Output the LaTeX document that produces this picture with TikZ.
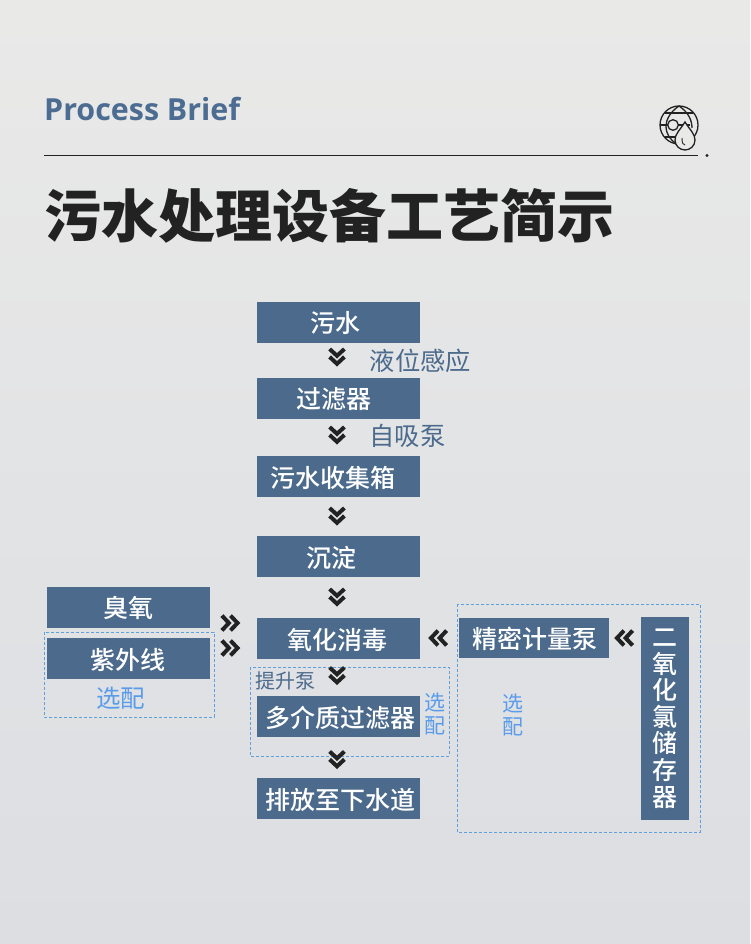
\documentclass[tikz,border=0pt]{standalone}
\usepackage{fontspec}
\setmainfont{Noto Sans CJK SC}
\newfontfamily\boxf{Noto Sans CJK SC Medium}
\newfontfamily\latinf{Open Sans}
\usetikzlibrary{calc}
\definecolor{boxblue}{HTML}{4B6A8C}
\definecolor{headblue}{HTML}{4C6C92}
\definecolor{optblue}{HTML}{5A9CEA}
\definecolor{dashblue}{HTML}{5F9FE0}
\definecolor{inkdark}{HTML}{222222}
\definecolor{bgtop}{HTML}{E9E9E8}
\definecolor{bgbot}{HTML}{DCDEE2}
\tikzset{
 x=1pt,y=-1pt,
 flowbox/.style={fill=boxblue,inner sep=0pt,anchor=center,minimum height=41pt,minimum width=163pt},
 boxtext/.style={text=white,font=\boxf\fontsize{25}{27}\selectfont,inner sep=0pt,anchor=center},
 sidelabel/.style={text=boxblue,font=\fontsize{25.3}{27}\selectfont,inner sep=0pt,anchor=center},
 optlabel/.style={text=optblue,font=\fontsize{21}{24}\selectfont,inner sep=0pt,anchor=center},
 optbox/.style={draw=dashblue,dash pattern=on 3pt off 2pt,line width=0.7pt},
 chevstroke/.style={draw=inkdark,line width=4pt,miter limit=10},
 chevdown/.pic={\draw[chevstroke] (-7.4,-8)--(0,-1.2)--(7.4,-8);\draw[chevstroke] (-7.4,-0.1)--(0,6.8)--(7.4,-0.1);},
 chevright/.pic={\draw[chevstroke] (-8.6,-7.4)--(-1.6,0)--(-8.6,7.4);\draw[chevstroke] (0,-7.4)--(7,0)--(0,7.4);},
 chevleft/.pic={\draw[chevstroke] (8.6,-7.4)--(1.6,0)--(8.6,7.4);\draw[chevstroke] (0,-7.4)--(-7,0)--(0,7.4);},
 iconline/.style={draw=inkdark,line width=1.3pt},
}
\begin{document}
\begin{tikzpicture}
\useasboundingbox (0,0) rectangle (750,944);
\shade[top color=bgtop,bottom color=bgbot] (0,0) rectangle (750,944);
% header
\node[anchor=west,inner sep=0pt,text=headblue,font=\latinf\fontsize{30.4}{34}\selectfont\bfseries] (brief) at (44,109) {Process Brief};
\coordinate (ruleL) at (44,155); \coordinate (ruleR) at (698,155);
\draw[inkdark,line width=0.8pt] (ruleL)--(ruleR);
\fill[inkdark] (707,155.5) circle (1.7);
\node[anchor=west,inner sep=0pt,text=inkdark,font=\fontsize{57}{60}\selectfont\bfseries] (title) at (44,216) {污水处理设备工艺简示};
% icon
\draw[iconline] (679,125) circle (19);
\draw[iconline] (679,106) .. controls (670,112) and (666,120) .. (666,126) .. controls (666,134) and (670,140) .. (677,144);
\draw[iconline] (679,106) .. controls (688,112) and (692,120) .. (692,128);
\draw[iconline] (665,113)--(693,113);
\draw[iconline] (660,125)--(690,125);
\draw[iconline] (665,137)--(677,137);
\draw[iconline,fill=bgtop] (673,125) circle (5.3);
\draw[iconline,fill=bgtop] (685,122) .. controls (690,130) and (695,134) .. (695,140) .. controls (695,146) and (690,150) .. (685,150) .. controls (680,150) and (675,146) .. (675,140) .. controls (675,134) and (680,130) .. (685,122) -- cycle;
\draw[iconline,line width=0.9pt] (682,138) .. controls (682,143) and (683,145) .. (685,145);
% dashed frames
\draw[optbox] (44,632) rectangle (214,717);
\draw[optbox] (250,667) rectangle (449,756);
\draw[optbox] (457,604) rectangle (700,832);
% main column
\node[flowbox] (n1) at (338.5,322.5) {};
\node[boxtext] at (335,323.5) {污水};
\node[flowbox] (n2) at (338.5,398.5) {};
\node[boxtext] at (334,399.5) {过滤器};
\node[flowbox] (n3) at (338.5,476.5) {};
\node[boxtext] at (332.5,477.5) {污水收集箱};
\node[flowbox] (n4) at (338.5,556.5) {};
\node[boxtext] at (331.5,557.5) {沉淀};
\node[flowbox] (n5) at (338.5,638.5) {};
\node[boxtext] at (337.5,639.5) {氧化消毒};
\node[flowbox] (n6) at (338.5,716.5) {};
\node[boxtext] at (340.5,717.5) {多介质过滤器};
\node[flowbox] (n7) at (338.5,798.5) {};
\node[boxtext] at (340.5,799.5) {排放至下水道};
% left
\node[flowbox] (o1) at (128.5,607.5) {};
\node[boxtext] at (128,608.5) {臭氧};
\node[flowbox] (o2) at (128.5,658.5) {};
\node[boxtext] at (128,659.5) {紫外线};
% right
\node[flowbox,minimum width=150pt,minimum height=40pt] (p1) at (534,638) {};
\node[boxtext] at (535,639) {精密计量泵};
\node[flowbox,minimum width=48pt,minimum height=203pt] (p2) at (665,718.5) {};
\node[boxtext,align=center,font=\boxf\fontsize{25}{26.6}\selectfont] at (665,718.5) {二\\氧\\化\\氯\\储\\存\\器};
% labels
\node[sidelabel] (l1) at (420.5,361) {液位感应};
\node[sidelabel] (l2) at (407.5,436) {自吸泵};
\node[sidelabel,font=\fontsize{20}{22}\selectfont] (l3) at (285,681) {提升泵};
\node[optlabel,font=\fontsize{24.5}{26}\selectfont] (s1) at (120.5,698) {选配};
\node[optlabel,align=center,font=\fontsize{21}{23}\selectfont] (s2) at (435,714) {选\\配};
\node[optlabel,align=center,font=\fontsize{21}{23}\selectfont] (s3) at (513,715) {选\\配};
% chevrons
\foreach \yy in {357,435,516,597,675.5,759.5} \pic at (337,\yy) {chevdown};
\pic at (230.5,623) {chevright};
\pic at (230.5,648) {chevright};
\pic at (438,638) {chevleft};
\pic at (624,638) {chevleft};
\end{tikzpicture}
\end{document}
